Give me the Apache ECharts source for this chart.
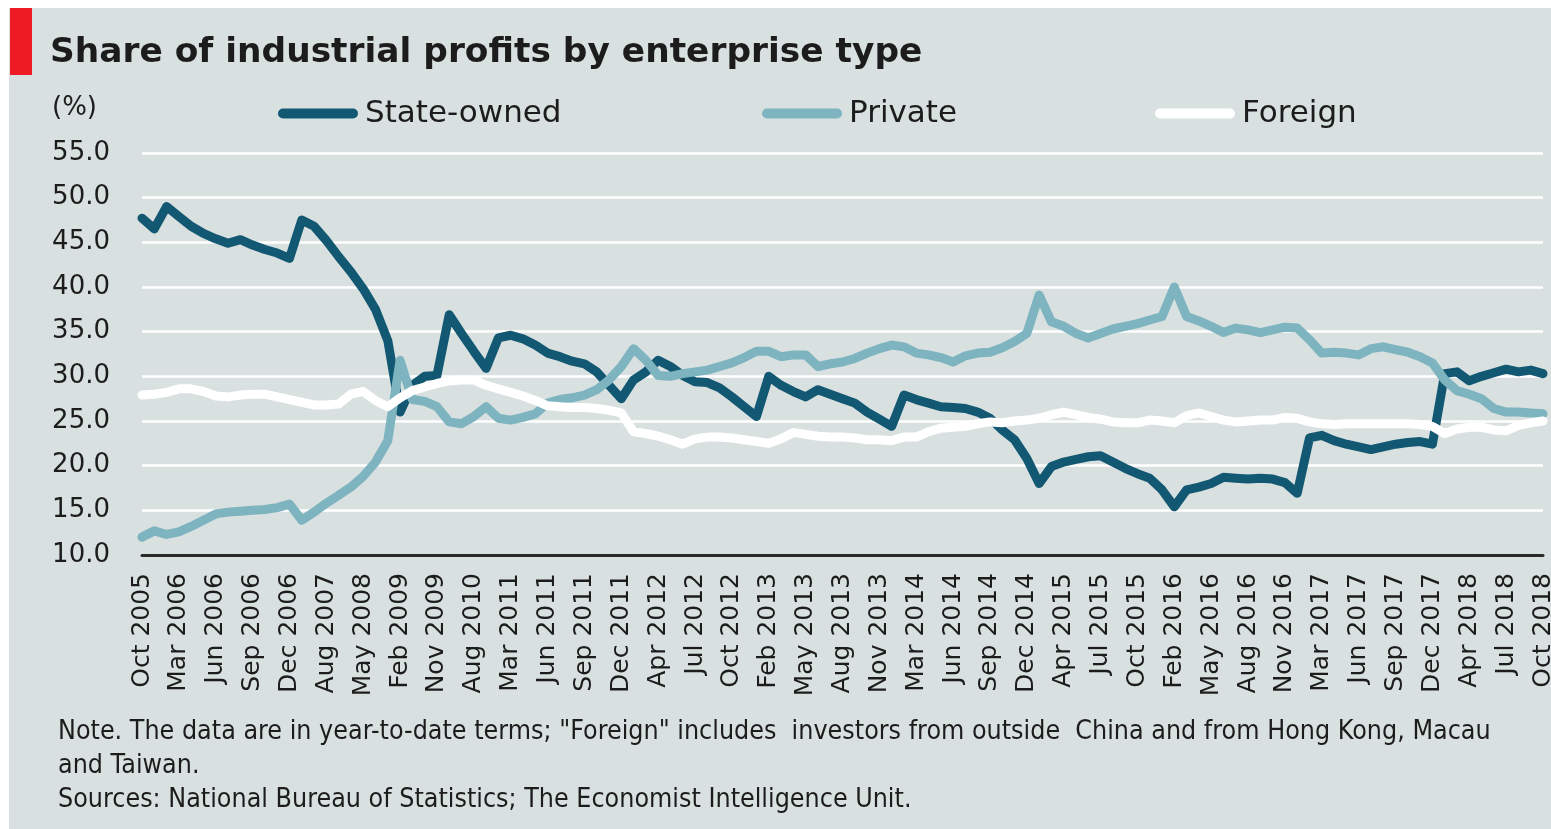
<!DOCTYPE html>
<html>
<head>
<meta charset="utf-8">
<script src="https://cdn.jsdelivr.net/npm/echarts@6/dist/echarts.min.js"></script>
<style>
  html, body { margin: 0; padding: 0; background: #ffffff; }
  #chart { width: 1551px; height: 829px; }
</style>
</head>
<body>
<div id="chart"></div>
<script>
// Reporting months (year-to-date data; January is folded into February)
const months = [
  'Oct 2005', 'Nov 2005', 'Feb 2006', 'Mar 2006', 'Apr 2006', 'May 2006', 'Jun 2006', 'Jul 2006', 'Aug 2006', 'Sep 2006',
  'Oct 2006', 'Nov 2006', 'Dec 2006', 'Feb 2007', 'May 2007', 'Aug 2007', 'Nov 2007', 'Feb 2008', 'May 2008', 'Aug 2008',
  'Nov 2008', 'Feb 2009', 'May 2009', 'Aug 2009', 'Nov 2009', 'Feb 2010', 'May 2010', 'Aug 2010', 'Nov 2010', 'Feb 2011',
  'Mar 2011', 'Apr 2011', 'May 2011', 'Jun 2011', 'Jul 2011', 'Aug 2011', 'Sep 2011', 'Oct 2011', 'Nov 2011', 'Dec 2011',
  'Feb 2012', 'Mar 2012', 'Apr 2012', 'May 2012', 'Jun 2012', 'Jul 2012', 'Aug 2012', 'Sep 2012', 'Oct 2012', 'Nov 2012',
  'Dec 2012', 'Feb 2013', 'Mar 2013', 'Apr 2013', 'May 2013', 'Jun 2013', 'Jul 2013', 'Aug 2013', 'Sep 2013', 'Oct 2013',
  'Nov 2013', 'Dec 2013', 'Feb 2014', 'Mar 2014', 'Apr 2014', 'May 2014', 'Jun 2014', 'Jul 2014', 'Aug 2014', 'Sep 2014',
  'Oct 2014', 'Nov 2014', 'Dec 2014', 'Feb 2015', 'Mar 2015', 'Apr 2015', 'May 2015', 'Jun 2015', 'Jul 2015', 'Aug 2015',
  'Sep 2015', 'Oct 2015', 'Nov 2015', 'Dec 2015', 'Feb 2016', 'Mar 2016', 'Apr 2016', 'May 2016', 'Jun 2016', 'Jul 2016',
  'Aug 2016', 'Sep 2016', 'Oct 2016', 'Nov 2016', 'Dec 2016', 'Feb 2017', 'Mar 2017', 'Apr 2017', 'May 2017', 'Jun 2017',
  'Jul 2017', 'Aug 2017', 'Sep 2017', 'Oct 2017', 'Nov 2017', 'Dec 2017', 'Feb 2018', 'Mar 2018', 'Apr 2018', 'May 2018',
  'Jun 2018', 'Jul 2018', 'Aug 2018', 'Sep 2018', 'Oct 2018'
];

// Share of industrial profits, %
const stateOwned = [
  47.7, 46.5, 49.0, 47.9, 46.8, 46.0, 45.4, 44.9, 45.3, 44.7,
  44.2, 43.8, 43.2, 47.5, 46.8, 45.2, 43.4, 41.7, 39.8, 37.5,
  34.0, 26.0, 29.0, 30.0, 30.1, 36.9, 34.8, 32.8, 30.9, 34.3,
  34.6, 34.2, 33.5, 32.6, 32.2, 31.7, 31.4, 30.5, 29.0, 27.5,
  29.6, 30.5, 31.8, 31.1, 30.1, 29.4, 29.3, 28.7, 27.7, 26.6,
  25.5, 30.0, 29.0, 28.3, 27.7, 28.5, 28.0, 27.5, 27.0, 26.0,
  25.2, 24.4, 27.9, 27.4, 27.0, 26.6, 26.5, 26.4, 26.0, 25.3,
  24.0, 22.9, 20.8, 18.0, 19.9, 20.4, 20.7, 21.0, 21.1, 20.4,
  19.7, 19.1, 18.6, 17.3, 15.4, 17.3, 17.6, 18.0, 18.7, 18.6,
  18.5, 18.6, 18.5, 18.1, 16.9, 23.1, 23.4, 22.8, 22.4, 22.1,
  21.8, 22.1, 22.4, 22.6, 22.7, 22.4, 30.3, 30.5, 29.5, 30.0,
  30.4, 30.8, 30.5, 30.7, 30.3
];

const privateOwned = [
  12.0, 12.7, 12.3, 12.6, 13.2, 13.9, 14.6, 14.8, 14.9, 15.0,
  15.1, 15.3, 15.7, 13.9, 14.8, 15.8, 16.7, 17.6, 18.8, 20.4,
  22.8, 31.8, 27.4, 27.2, 26.6, 24.9, 24.7, 25.5, 26.6, 25.3,
  25.1, 25.4, 25.8, 27.0, 27.4, 27.6, 27.9, 28.5, 29.6, 31.1,
  33.1, 31.8, 30.1, 30.0, 30.3, 30.5, 30.7, 31.1, 31.5, 32.1,
  32.8, 32.8, 32.2, 32.4, 32.4, 31.1, 31.4, 31.6, 32.0, 32.6,
  33.1, 33.5, 33.3, 32.6, 32.4, 32.1, 31.6, 32.3, 32.6, 32.7,
  33.2, 33.9, 34.8, 39.1, 36.1, 35.6, 34.8, 34.3, 34.8, 35.3,
  35.6, 35.9, 36.3, 36.7, 40.0, 36.7, 36.2, 35.6, 34.9, 35.4,
  35.2, 34.9, 35.2, 35.5, 35.4, 34.1, 32.6, 32.7, 32.6, 32.4,
  33.1, 33.3, 33.0, 32.7, 32.2, 31.5, 29.6, 28.4, 28.0, 27.5,
  26.4, 26.0, 26.0, 25.9, 25.8
];

const foreignOwned = [
  27.9, 28.0, 28.2, 28.6, 28.6, 28.3, 27.8, 27.7, 27.9, 28.0,
  28.0, 27.7, 27.4, 27.1, 26.8, 26.8, 26.9, 28.0, 28.3, 27.3,
  26.6, 27.6, 28.4, 28.8, 29.2, 29.5, 29.6, 29.6, 29.0, 28.6,
  28.2, 27.8, 27.3, 26.7, 26.6, 26.5, 26.5, 26.4, 26.2, 25.9,
  23.8, 23.6, 23.3, 22.9, 22.4, 23.0, 23.2, 23.2, 23.1, 22.9,
  22.7, 22.5, 23.0, 23.7, 23.5, 23.3, 23.2, 23.2, 23.1, 22.9,
  22.9, 22.8, 23.2, 23.2, 23.8, 24.2, 24.3, 24.4, 24.7, 24.9,
  24.8, 25.0, 25.1, 25.3, 25.7, 26.0, 25.7, 25.4, 25.2, 24.9,
  24.8, 24.8, 25.1, 25.0, 24.8, 25.6, 25.9, 25.5, 25.1, 24.9,
  25.0, 25.1, 25.1, 25.4, 25.3, 24.9, 24.7, 24.6, 24.7, 24.7,
  24.7, 24.7, 24.7, 24.7, 24.6, 24.4, 23.6, 24.1, 24.3, 24.3,
  24.0, 23.9, 24.5, 24.8, 25.0
];

const seriesNames = ['State-owned', 'Private', 'Foreign'];
const seriesColors = ['#135873', '#7db4c0', '#ffffff'];

const FONT = '"DejaVu Sans", Verdana, sans-serif';
const INK = '#1c1c1c';
const PILL = 'path://M5,0 L75,0 A5,5 0 0 1 75,10 L5,10 A5,5 0 0 1 5,0 Z';

const chart = echarts.init(document.getElementById('chart'), null, { renderer: 'canvas' });

function legendAt(name, left) {
  return {
    data: [name],
    left: left,
    top: 98,
    icon: PILL,
    itemWidth: 80,
    itemHeight: 10,
    padding: 0,
    textStyle: { fontFamily: FONT, fontSize: 31, color: INK, padding: [0, 0, 0, 2] },
    selectedMode: false
  };
}

function lineSeries(name, data, color) {
  return {
    name: name,
    type: 'line',
    data: data,
    symbol: 'none',
    smooth: false,
    lineStyle: { color: color, width: 9, cap: 'round', join: 'round' },
    itemStyle: { color: color },
    emphasis: { disabled: true },
    animation: false
  };
}

// Footnote lines: slightly condensed body text
function noteLine(text, y) {
  return {
    type: 'text', x: 58, y: y, scaleX: 0.92,
    style: { text: text, font: '26px ' + FONT, fill: INK, textVerticalAlign: 'middle' }
  };
}

chart.setOption({
  backgroundColor: '#ffffff',
  animation: false,
  textStyle: { fontFamily: FONT },
  graphic: [
    { type: 'rect', z: -10, shape: { x: 9, y: 8, width: 1542, height: 821 }, style: { fill: '#d9e0e0' } },
    { type: 'rect', shape: { x: 10, y: 8, width: 22, height: 67 }, style: { fill: '#ee1b24' } },
    { type: 'text', x: 50, y: 53, style: { text: 'Share of industrial profits by enterprise type', font: 'bold 34.4px ' + FONT, fill: INK, textVerticalAlign: 'middle' } },
    { type: 'text', x: 52, y: 108, style: { text: '(%)', font: '26px ' + FONT, fill: INK, textVerticalAlign: 'middle' } },
    noteLine('Note. The data are in year-to-date terms; "Foreign" includes  investors from outside  China and from Hong Kong, Macau', 732),
    noteLine('and Taiwan.', 766),
    noteLine('Sources: National Bureau of Statistics; The Economist Intelligence Unit.', 800)
  ],
  legend: [
    legendAt(seriesNames[0], 278),
    legendAt(seriesNames[1], 762),
    legendAt(seriesNames[2], 1155)
  ],
  grid: { left: 142, right: 8, top: 153, bottom: 274, containLabel: false, outerBoundsMode: 'none' },
  xAxis: {
    type: 'category',
    data: months,
    boundaryGap: false,
    axisLine: { show: true, lineStyle: { color: '#2a2a2a', width: 3 } },
    axisTick: { show: false },
    axisLabel: {
      interval: 2,
      rotate: 90,
      margin: 18,
      fontFamily: FONT,
      fontSize: 25,
      color: INK
    },
    splitLine: { show: false }
  },
  yAxis: {
    type: 'value',
    min: 10,
    max: 55,
    interval: 5,
    axisLine: { show: false },
    axisTick: { show: false },
    axisLabel: {
      margin: 32,
      fontFamily: FONT,
      fontSize: 26,
      color: INK,
      formatter: v => v.toFixed(1)
    },
    splitLine: { show: true, lineStyle: { color: '#ffffff', width: 2.5 } }
  },
  series: [
    lineSeries(seriesNames[0], stateOwned, seriesColors[0]),
    lineSeries(seriesNames[1], privateOwned, seriesColors[1]),
    lineSeries(seriesNames[2], foreignOwned, seriesColors[2])
  ]
});
</script>
</body>
</html>
